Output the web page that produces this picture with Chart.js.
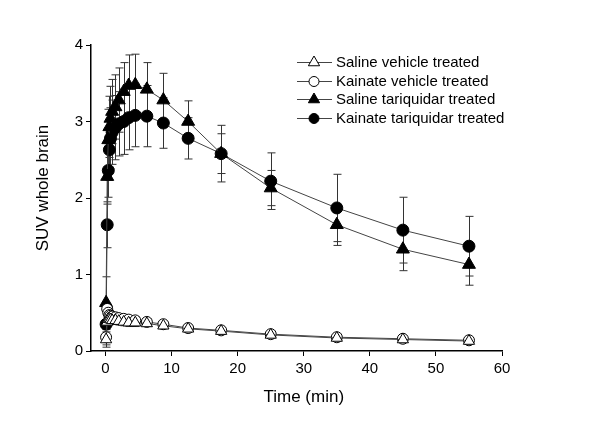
<!DOCTYPE html>
<html>
<head>
<meta charset="utf-8">
<script src="https://cdn.jsdelivr.net/npm/chart.js@4.4.0/dist/chart.umd.min.js"></script>
<style>
body{margin:0;background:#fff}
</style>
</head>
<body>
<canvas id="graph" width="600" height="421"></canvas>
<script>
// frame mid times (min)
var times=[0.083,0.25,0.417,0.583,0.75,1.0,1.5,2.0,2.75,3.5,4.5,6.25,8.75,12.5,17.5,25,35,45,55];

var salineVeh=[0.15,0.38,0.42,0.42,0.41,0.40,0.40,0.39,0.38,0.37,0.37,0.36,0.33,0.29,0.26,0.21,0.17,0.15,0.13];
var salineVehSd=[0.10,0.06,0.05,0.05,0.05,0.05,0.05,0.05,0.05,0.05,0.05,0.04,0.04,0.04,0.04,0.04,0.04,0.03,0.03];
var kainateVeh=[0.18,0.55,0.50,0.47,0.46,0.45,0.44,0.43,0.42,0.41,0.40,0.38,0.35,0.30,0.27,0.22,0.18,0.16,0.14];
var kainateVehSd=[0.10,0.06,0.05,0.05,0.05,0.05,0.05,0.05,0.05,0.05,0.05,0.04,0.04,0.04,0.04,0.04,0.04,0.03,0.03];
var salineTq=[0.63,2.28,2.76,2.93,3.04,3.13,3.19,3.28,3.39,3.47,3.48,3.42,3.28,3.00,2.58,2.13,1.65,1.33,1.13];
var salineTqSd=[0.34,0.36,0.40,0.40,0.42,0.42,0.42,0.42,0.38,0.40,0.40,0.35,0.35,0.27,0.26,0.23,0.27,0.28,0.27];
var kainateTq=[0.35,1.65,2.36,2.63,2.78,2.86,2.92,2.97,3.00,3.05,3.08,3.07,2.98,2.78,2.58,2.22,1.87,1.58,1.37];
var kainateTqSd=[0.05,0.30,0.35,0.40,0.40,0.42,0.42,0.42,0.43,0.42,0.41,0.40,0.33,0.27,0.37,0.37,0.44,0.43,0.39];

var xTicks=[0,10,20,30,40,50,60];
var legendNames=["Saline vehicle treated","Kainate vehicle treated","Saline tariquidar treated","Kainate tariquidar treated"];

function pts(vals){
  return vals.map(function(v,i){return {x:times[i],y:v};});
}

var series=[
  {label:legendNames[0],data:pts(salineVeh),sd:salineVehSd,pointStyle:'triangle',pointRadius:6.5,fill:'#fff'},
  {label:legendNames[1],data:pts(kainateVeh),sd:kainateVehSd,pointStyle:'circle',pointRadius:5.5,fill:'#fff'},
  {label:legendNames[2],data:pts(salineTq),sd:salineTqSd,pointStyle:'triangle',pointRadius:7.5,fill:'#000'},
  {label:legendNames[3],data:pts(kainateTq),sd:kainateTqSd,pointStyle:'circle',pointRadius:6,fill:'#000'}
];

var datasets=series.map(function(s){
  return {
    label:s.label,data:s.data,sd:s.sd,
    borderColor:'#444',borderWidth:1,tension:0,
    pointStyle:s.pointStyle,pointRadius:s.pointRadius,
    pointBackgroundColor:s.fill,pointBorderColor:'#000',pointBorderWidth:1
  };
});

var errorBars={
  id:'errorBars',
  beforeDatasetsDraw:function(chart){
    var ctx=chart.ctx, xs=chart.scales.x, ys=chart.scales.y;
    ctx.save();
    ctx.strokeStyle='#333';
    ctx.lineWidth=1;
    chart.data.datasets.forEach(function(ds){
      ds.data.forEach(function(p,i){
        var x=Math.round(xs.getPixelForValue(p.x))+0.5;
        var top=ys.getPixelForValue(p.y+ds.sd[i]);
        var bot=ys.getPixelForValue(Math.max(0,p.y-ds.sd[i]));
        ctx.beginPath();
        ctx.moveTo(x,top);ctx.lineTo(x,bot);
        ctx.moveTo(x-4,top);ctx.lineTo(x+4,top);
        ctx.moveTo(x-4,bot);ctx.lineTo(x+4,bot);
        ctx.stroke();
      });
    });
    ctx.restore();
  }
};

var extras={
  id:'extras',
  afterDraw:function(chart){
    var ctx=chart.ctx, xs=chart.scales.x;
    ctx.save();
    ctx.fillStyle='#000';
    ctx.font='17px "Liberation Sans", Arial, sans-serif';
    ctx.textAlign='center';
    ctx.textBaseline='middle';
    ctx.fillText('Time (min)',xs.getPixelForValue(30),397);
    ctx.translate(43,188);
    ctx.rotate(-Math.PI/2);
    ctx.fillText('SUV whole brain',0,0);
    ctx.restore();

    // legend
    ctx.save();
    ctx.font='15px "Liberation Sans", Arial, sans-serif';
    ctx.textAlign='left';
    ctx.textBaseline='middle';
    var rows=[62,81,99,118];
    series.forEach(function(s,i){
      var y=rows[i];
      ctx.strokeStyle='#444';
      ctx.lineWidth=1;
      ctx.beginPath();
      ctx.moveTo(297,y+0.5);ctx.lineTo(332,y+0.5);
      ctx.stroke();
      ctx.fillStyle=s.fill;
      ctx.strokeStyle='#000';
      Chart.helpers.drawPoint(ctx,{pointStyle:s.pointStyle,radius:s.pointStyle=='triangle'?6.5:5,borderWidth:1,rotation:0},314,y+0.5);
      ctx.fillStyle='#000';
      ctx.fillText(s.label,336,y+1);
    });
    ctx.restore();
  }
};

new Chart("graph",{
  type:'line',
  data:{datasets:datasets},
  plugins:[errorBars,extras],
  options:{
    responsive:false,
    animation:false,
    layout:{padding:{left:0,right:98,top:45,bottom:0}},
    plugins:{legend:{display:false},tooltip:{enabled:false}},
    scales:{
      x:{
        type:'linear',min:-2.2,max:60,
        afterBuildTicks:function(axis){axis.ticks=xTicks.map(function(v){return {value:v};});},
        afterFit:function(scale){scale.height=70;},
        ticks:{color:'#000',font:{size:15,family:'"Liberation Sans", Arial'},padding:4,maxRotation:0},
        grid:{display:true,drawOnChartArea:false,drawTicks:true,tickLength:5,color:'#000'},
        border:{display:true,color:'#000',width:1.5}
      },
      y:{
        min:0,max:4,
        afterFit:function(scale){scale.width=91;},
        ticks:{stepSize:1,color:'#000',font:{size:15,family:'"Liberation Sans", Arial'},padding:3},
        grid:{display:true,drawOnChartArea:false,drawTicks:true,tickLength:5,color:'#000'},
        border:{display:true,color:'#000',width:1.5}
      }
    }
  }
});
</script>
</body>
</html>
